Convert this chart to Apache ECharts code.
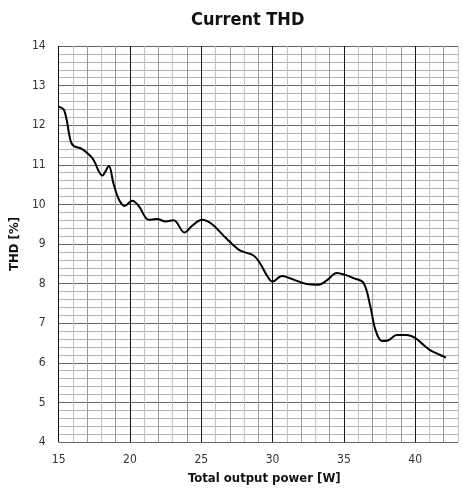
<!DOCTYPE html>
<html><head><meta charset="utf-8">
<script src="https://cdn.jsdelivr.net/npm/echarts@6/dist/echarts.min.js"></script>
<style>html,body{margin:0;padding:0;background:#fff}#c{width:462px;height:490px}</style>
</head><body><div id="c"></div>
<script>
const titleText = 'Current THD';
const xName = 'Total output power [W]';
const yName = 'THD [%]';
const powerW = [15.0,15.4,15.84,16.07,16.6,17.24,17.47,18.06,18.52,18.83,19.22,19.62,20.16,20.62,21.32,21.9,22.49,23.07,23.82,24.36,25.06,25.76,26.46,27.16,27.74,28.67,29.14,29.61,30.0,30.65,31.47,32.4,33.22,33.8,34.5,35.09,35.67,36.37,36.84,37.19,37.66,38.12,38.71,39.41,39.99,40.46,41.04,41.62,42.16];
const thdPct = [12.47,12.37,11.6,11.47,11.41,11.22,11.11,10.73,10.97,10.55,10.13,9.96,10.09,9.96,9.61,9.63,9.57,9.60,9.29,9.46,9.61,9.50,9.25,9.0,8.83,8.71,8.50,8.20,8.05,8.19,8.10,7.99,7.97,8.08,8.27,8.22,8.14,8.02,7.45,6.86,6.55,6.57,6.70,6.70,6.63,6.49,6.32,6.22,6.13];
const data = powerW.map((x,i)=>[x, thdPct[i]]);
const font = 'DejaVu Sans Condensed, DejaVu Sans, sans-serif';
const chart = echarts.init(document.getElementById('c'));
chart.setOption({
  animation:false,
  backgroundColor:'#fff',
  title:{text:titleText,left:186,top:6,textStyle:{fontFamily:font,fontWeight:'bold',fontSize:18,color:'#111'}},
  grid:{left:58,right:4,top:46,bottom:46},
  xAxis:{type:'value',min:15,max:43,interval:1,
    name:xName,nameLocation:'middle',nameGap:30,
    nameTextStyle:{fontFamily:font,fontWeight:'bold',fontSize:13,color:'#111',padding:[0,0,0,12]},
    axisLine:{show:false},axisTick:{show:false},
    axisLabel:{interval:0,margin:12,fontFamily:font,fontSize:12,color:'#333',
      formatter:v=>(Math.round(v)%5===0 && Math.round(v)<=40)?String(Math.round(v)):''},
    splitLine:{show:true,lineStyle:{width:1,color:['#111','#c4c4c4','#9a9a9a','#c4c4c4','#9a9a9a']}}
  },
  yAxis:{type:'value',min:4,max:14,interval:1,
    name:yName,nameLocation:'middle',nameGap:35,
    nameTextStyle:{fontFamily:font,fontWeight:'bold',fontSize:13,color:'#111'},
    axisLine:{show:false},axisTick:{show:false},
    axisLabel:{margin:13,fontFamily:font,fontSize:12,color:'#333'},
    minorTick:{show:false,splitNumber:5},
    splitLine:{show:true,lineStyle:{width:1,color:'#666'}},
    minorSplitLine:{show:true,lineStyle:{width:1,color:'#b4b4b4'}}
  },
  series:[{type:'line',data:data,smooth:0.35,showSymbol:false,
    lineStyle:{color:'#000',width:2}}]
});
</script></body></html>
